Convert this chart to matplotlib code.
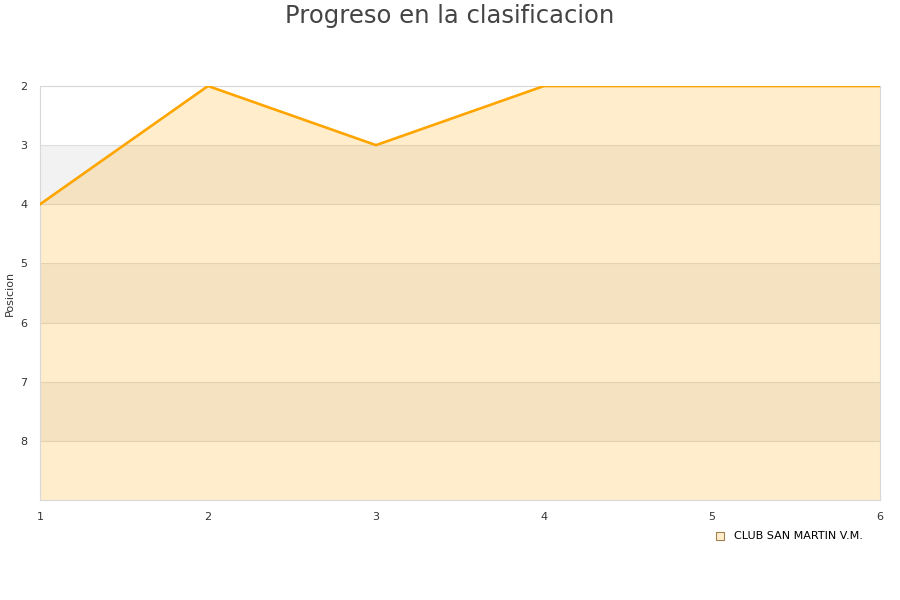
import matplotlib
matplotlib.use("Agg")
from matplotlib import pyplot as plt
from matplotlib.lines import Line2D

jornadas = [1, 2, 3, 4, 5, 6]
posiciones = [4, 2, 3, 2, 2, 2]
equipo = 'CLUB SAN MARTIN V.M.'
y_ticks = [2, 3, 4, 5, 6, 7, 8]

fig = plt.figure(figsize=(9, 6), dpi=100)
ax = fig.add_axes([40 / 900, 100 / 600, 840 / 900, 414 / 600])

# alternating background bands
for lo in (3, 5, 7):
    ax.axhspan(lo, lo + 1, color='#f2f2f2', zorder=0, lw=0)
for y in y_ticks:
    ax.axhline(y, color='#dddddd', lw=0.8, zorder=1)

ax.fill_between(jornadas, posiciones, 9, color='#ffa500', alpha=0.2, lw=0, zorder=2)
ax.plot(jornadas, posiciones, color='#ffa500', lw=1.9, zorder=3)

ax.set_xlim(1, 6)
ax.set_ylim(9, 2)
ax.set_xticks(jornadas)
ax.set_yticks(y_ticks)
ax.tick_params(axis='y', length=0, labelsize=8, colors='#333333', pad=9)
ax.tick_params(axis='x', length=0, labelsize=8, colors='#333333', pad=9)
for s in ax.spines.values():
    s.set_color('#d8d8d8')
ax.set_ylabel('Posicion', fontsize=8, color='#333333', labelpad=4)

fig.suptitle('Progreso en la clasificacion', fontsize=17.5, color='#444444', y=0.993)

handle = Line2D([], [], marker='s', ls='none', markersize=6,
                markerfacecolor='#ffedcc', markeredgecolor='#a08050', markeredgewidth=0.8)
fig.legend([handle], [equipo], loc='center right', bbox_to_anchor=(0.97, 0.106),
           frameon=False, fontsize=8, handletextpad=0.3)

plt.savefig('out.png')
